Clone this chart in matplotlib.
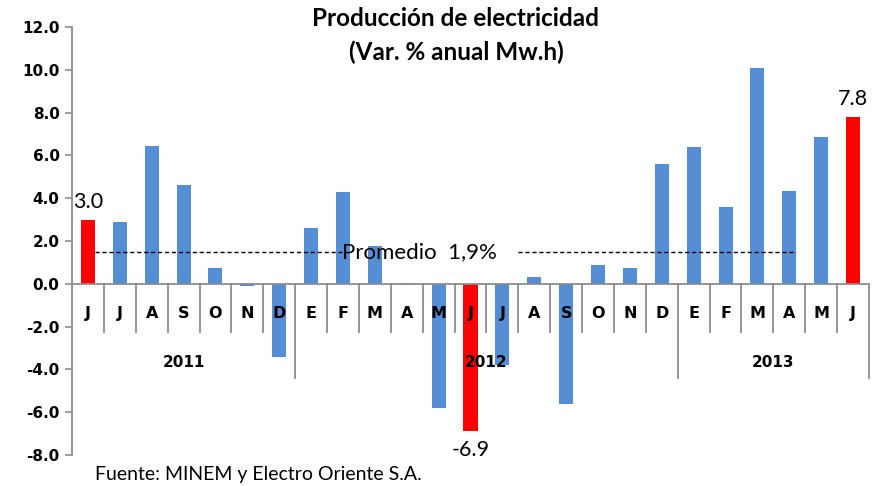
import matplotlib
matplotlib.use("Agg")
import matplotlib.pyplot as plt

# monthly variation (%), Jun 2011 .. Jun 2013
months = ["J", "J", "A", "S", "O", "N", "D",
          "E", "F", "M", "A", "M", "J", "J", "A", "S", "O", "N", "D",
          "E", "F", "M", "A", "M", "J"]
values = [3.0, 2.9, 6.45, 4.6, 0.75, -0.1, -3.4,
          2.6, 4.3, 1.75, 0.05, -5.8, -6.9, -3.8, 0.3, -5.6, 0.9, 0.75, 5.6,
          6.4, 3.6, 10.1, 4.35, 6.85, 7.8]
years = ["2011", "2012", "2013"]
year_counts = [7, 12, 6]
highlight = [0, 12, 24]          # bars shown in red, with labels
promedio = 1.5                   # where the dashed line sits
promedio_txt = "Promedio  1,9%"

BLUE = "#558ED5"
RED = "#FF0000"
GRAY = "#8C8C8C"

fig = plt.figure(figsize=(8.77, 4.86), dpi=100)
ax = fig.add_axes([72 / 877, 1 - 455 / 486, 797 / 877, (455 - 27) / 486])

x = list(range(len(values)))
colors = [RED if i in highlight else BLUE for i in x]
ax.bar(x, values, width=0.44, color=colors, zorder=2)

ax.set_xlim(-0.5, len(values) - 0.5)
ax.set_ylim(-8, 12)
ax.set_yticks(range(-8, 13, 2))
ax.set_yticklabels([f"{v:.1f}" for v in range(-8, 13, 2)],
                   fontsize=11, fontweight="bold", family="DejaVu Sans")
ax.tick_params(axis="y", direction="out", length=5, color=GRAY, width=1.2, pad=4)
ax.set_xticks([])
for s in ["top", "right", "bottom"]:
    ax.spines[s].set_visible(False)
ax.spines["left"].set_color(GRAY)
ax.spines["left"].set_linewidth(1.3)

# zero line
ax.axhline(0, color=GRAY, lw=1.3, zorder=3)

# category separators + month labels
for i, m in enumerate(months):
    ax.text(i, -1.4, m, ha="center", va="center", fontsize=11.5,
            fontweight="bold", family="DejaVu Sans")
bounds = []
acc = 0
for c in year_counts:
    acc += c
    bounds.append(acc - 0.5)
for k in range(len(values)):
    b = k + 0.5
    if b in bounds:
        ax.plot([b, b], [0, -4.4], color=GRAY, lw=1.3, clip_on=False, zorder=3)
    else:
        ax.plot([b, b], [0, -2.25], color=GRAY, lw=1.3, clip_on=False, zorder=3)

# year labels
start = 0
for yr, c in zip(years, year_counts):
    ax.text(start + (c - 1) / 2, -3.7, yr, ha="center", va="center",
            fontsize=11, fontweight="bold", family="DejaVu Sans")
    start += c

# data labels on highlighted bars
for i in highlight:
    v = values[i]
    if v >= 0:
        ax.text(i, v + 0.35, f"{v:.1f}", ha="center", va="bottom",
                fontsize=15.5, family="Lato")
    else:
        ax.text(i, v - 0.4, f"{v:.1f}", ha="center", va="top",
                fontsize=15.5, family="Lato")

# promedio dashed line
ax.plot([0.22, 7.96], [promedio, promedio], color="black", lw=1,
        ls=(0, (3, 2)), zorder=4)
ax.plot([13.48, 22.2], [promedio, promedio], color="black", lw=1,
        ls=(0, (3, 2)), zorder=4)
ax.text(7.96, promedio, promedio_txt, ha="left", va="center",
        fontsize=16, family="Lato", zorder=5)

fig.text(456 / 877, 1 - 19 / 486, "Producción de electricidad", ha="center",
         va="center", fontsize=17.5, fontweight="bold", family="Lato")
fig.text(456 / 877, 1 - 52 / 486, "(Var. % anual Mw.h)", ha="center",
         va="center", fontsize=17.5, fontweight="bold", family="Lato")
fig.text(95 / 877, 1 - 474 / 486, "Fuente: MINEM y Electro Oriente S.A.",
         ha="left", va="center", fontsize=14, family="Lato")

fig.savefig("out.png", dpi=100)
